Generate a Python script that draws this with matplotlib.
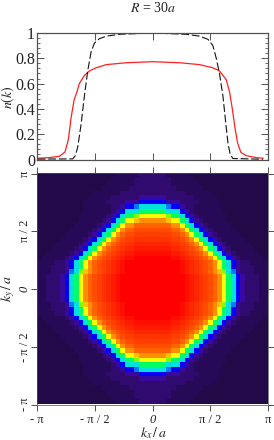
import numpy as np
import matplotlib
matplotlib.use("Agg")
import matplotlib.pyplot as plt
from matplotlib.colors import LinearSegmentedColormap
from matplotlib.ticker import MultipleLocator

plt.rcParams['font.family'] = ['Liberation Serif', 'DejaVu Serif']
plt.rcParams['mathtext.fontset'] = 'stix'

# n(k) curves: k in units of pi
red_k = [-0.994, -0.893, -0.806, -0.757, -0.728, -0.705, -0.679, -0.656, -0.633, -0.59, -0.546, -0.488, -0.40, -0.228, 0,
         0.234, 0.408, 0.523, 0.58, 0.639, 0.668, 0.691, 0.714, 0.737, 0.766, 0.812, 0.899, 0.957]
red_n = [0.01, 0.015, 0.025, 0.06, 0.16, 0.33, 0.47, 0.53, 0.60, 0.665, 0.70, 0.725, 0.75, 0.765, 0.773,
         0.765, 0.75, 0.725, 0.70, 0.63, 0.53, 0.40, 0.25, 0.13, 0.055, 0.03, 0.015, 0.01]
black_k = [-0.994, -0.691, -0.668, -0.647, -0.618, -0.59, -0.561, -0.532, -0.503, -0.46, -0.40, -0.286, 0,
           0.292, 0.408, 0.48, 0.523, 0.552, 0.58, 0.61, 0.633, 0.653, 0.673, 0.696, 0.957]
black_n = [0.003, 0.005, 0.03, 0.10, 0.28, 0.50, 0.70, 0.85, 0.92, 0.955, 0.975, 0.99, 1.0,
           0.99, 0.975, 0.95, 0.90, 0.80, 0.68, 0.50, 0.30, 0.13, 0.04, 0.008, 0.002]

# Upper-right quadrant of the momentum map, row 0 next to kx axis, column 0 next to ky axis
quadrant = [
    "lllll llkji hgfdb 97643 22211",
    "lllll llkji hgfdb 97643 22211",
    "lllll llkji hgfdb 97643 22211",
    "lllll lkjih gfdba 86532 22111",
    "lllll lkjih gfdb9 76432 22111",
    "lllll lkjih gfdb9 76432 21111",
    "llllk kjihg fdb97 64321 11110",
    "kkkkj jihgf db976 43211 11100",
    "jjjji ihgfd b9764 32111 11000",
    "iiiih hgfdb 97643 21111 10000",
    "hhhhg gfdb9 76432 11111 00000",
    "ggggf fdb97 64321 11110 00000",
    "ffffd db976 43211 11100 00000",
    "ddddb b9764 32111 11000 00000",
    "bbba9 97643 21111 10000 00000",
    "99987 76432 11111 10000 00000",
    "77766 64321 11111 00000 00000",
    "66654 43221 11111 00000 00000",
    "44433 32222 11111 00000 00000",
    "33322 22221 11110 00000 00000",
    "22222 22111 11100 00000 00000",
    "22222 11111 10000 00000 00000",
    "22221 11111 00000 00000 00000",
    "22221 11110 00000 00000 00000",
    "22211 11100 00000 00000 00000",
]
level_colors = ["#220a48", "#280a58", "#320a70", "#3a08a0", "#0000ff", "#0080ff", "#00e0e0", "#00ff60",
                "#80ff00", "#ffff00", "#ffc000", "#ff9000", "#ff7800", "#ff6400", "#ff5400", "#ff4c00",
                "#ff4000", "#ff3400", "#ff2800", "#ff1c00", "#ff0e00", "#ff0000"]

pi_ticks = [-np.pi, -np.pi / 2, 0, np.pi / 2, np.pi]
xpi_labels = ["- π", "- π / 2", "0", "π / 2", "π"]
n_ticks = [0, 0.2, 0.4, 0.6, 0.8, 1]
n_labels = ["0", "0.2", "0.4", "0.6", "0.8", "1"]

W, H = 274, 440
fig = plt.figure(figsize=(W / 100, H / 100), dpi=100)
def box(x0, y0, x1, y1):
    return [x0 / W, 1 - y1 / H, (x1 - x0) / W, (y1 - y0) / H]

frame = "#505050"
ax = fig.add_axes(box(37, 33, 268, 159.5))
ax.plot(np.array(red_k) * np.pi, red_n, color="#ff2020", lw=0.9)
ax.plot(np.array(black_k) * np.pi, black_n, color="#111111", lw=0.8, dashes=(7, 2.5))
ax.set_xlim(-np.pi, np.pi)
ax.set_ylim(0, 1)
ax.set_xticks(pi_ticks)
ax.set_xticklabels([])
ax.set_yticks(n_ticks)
ax.set_yticklabels(n_labels, fontsize=11.5, color="#222222")
ax.yaxis.set_minor_locator(MultipleLocator(0.04))
ax.tick_params(axis='both', which='major', direction='in', top=True, right=True, length=5, width=0.7, color=frame, pad=1.5)
ax.tick_params(axis='y', which='minor', direction='in', right=True, length=2.5, width=0.6, color=frame)
for s in ax.spines.values():
    s.set_color(frame)
    s.set_linewidth(0.9)

grid = np.array([[int(c, 22) for c in row.replace(" ", "")] for row in quadrant])
upper = np.hstack([grid[:, ::-1], grid])
full = np.vstack([upper[::-1], upper])
cmap = LinearSegmentedColormap.from_list("nk", level_colors, N=256)

ax2 = fig.add_axes(box(37, 173.5, 268, 404.5))
ax2.imshow(full, origin='lower', extent=[-np.pi, np.pi, -np.pi, np.pi], cmap=cmap, vmin=0, vmax=21,
           aspect='auto', interpolation='nearest')
ax2.set_xticks(pi_ticks)
ax2.set_yticks(pi_ticks)
ax2.set_xticklabels(xpi_labels, fontsize=9, color="#222222")
ax2.set_yticklabels(xpi_labels, fontsize=9, color="#222222", rotation=90, va='center')
ax2.get_xticklabels()[2].set_style('italic')
ax2.get_yticklabels()[2].set_style('italic')
ax2.tick_params(axis='y', direction='out', right=True, length=4, width=0.7, color=frame, pad=0.5)
ax2.tick_params(axis='x', direction='out', top=True, length=4, width=0.7, color=frame, pad=2.5)
for s in ax2.spines.values():
    s.set_color(frame)
    s.set_linewidth(0.5)

fig.text(153 / W, 1 - 8 / H, r"$R$ = 30$a$", ha='center', va='center', fontsize=10, color="#222222")
fig.text(8.5 / W, 1 - 97 / H, r"$n(k)$", ha='center', va='center', rotation=90, fontsize=10, color="#222222")
fig.text(8 / W, 1 - 289 / H, r"$\mathit{k}_{\mathit{y}}\,/\,\mathit{a}$", ha='center', va='center', rotation=90, fontsize=10, color="#222222")
fig.text(153 / W, 1 - 433 / H, r"$\mathit{k}_{\mathit{x}}\,/\,\mathit{a}$", ha='center', va='center', fontsize=10, color="#222222")

fig.savefig("out.png", dpi=100)
